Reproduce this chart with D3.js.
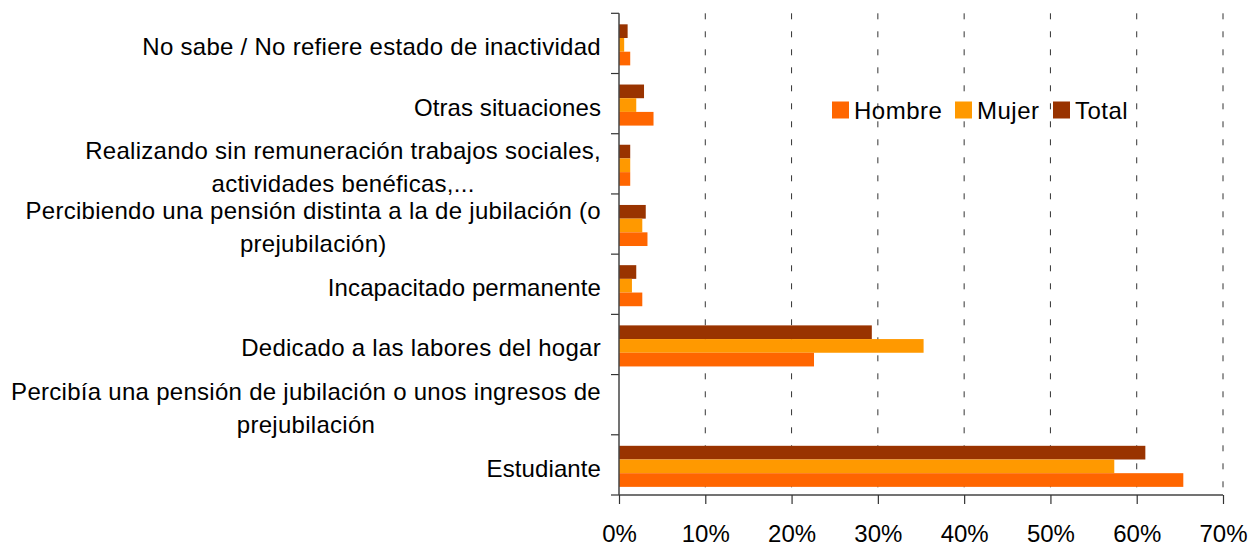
<!DOCTYPE html>
<html><head><meta charset="utf-8">
<script src="https://cdn.jsdelivr.net/npm/d3@7"></script>
<style>body{margin:0;background:#fff}svg{display:block;font-family:"Liberation Sans",Arial,sans-serif}</style>
</head><body>
<svg id="c" width="1250" height="545"></svg>
<script>
const categories = [
  "No sabe / No refiere estado de inactividad",
  "Otras situaciones",
  "Realizando sin remuneración trabajos sociales, actividades benéficas,...",
  "Percibiendo una pensión distinta a la de jubilación (o prejubilación)",
  "Incapacitado permanente",
  "Dedicado a las labores del hogar",
  "Percibía una pensión de jubilación o unos ingresos de prejubilación",
  "Estudiante"
];
const labelLines = [
  ["No sabe / No refiere estado de inactividad"],
  ["Otras situaciones"],
  ["Realizando sin remuneración trabajos sociales,", "actividades benéficas,..."],
  ["Percibiendo una pensión distinta a la de jubilación (o", "prejubilación)"],
  ["Incapacitado permanente"],
  ["Dedicado a las labores del hogar"],
  ["Percibía una pensión de jubilación o unos ingresos de", "prejubilación"],
  ["Estudiante"]
];
const seriesNames = ["Hombre", "Mujer", "Total"];
const hombre = [1.3, 4.0, 1.3, 3.3, 2.7, 22.6, 0, 65.4];
const mujer  = [0.6, 2.0, 1.3, 2.7, 1.5, 35.3, 0, 57.4];
const total  = [1.0, 2.9, 1.3, 3.1, 2.0, 29.3, 0, 61.0];
const xTicks = [0, 10, 20, 30, 40, 50, 60, 70];
const colors = {Hombre: "#FF6600", Mujer: "#FF9900", Total: "#993300"};
const values = {Hombre: hombre, Mujer: mujer, Total: total};

(function () {
const svg = d3.select("#c");
const pLeft = 619, pRight = 1223, pTop = 13.3, pBottom = 495;
const x = d3.scaleLinear().domain([0, 70]).range([pLeft, pRight]);
const y = d3.scaleBand().domain(categories).range([pTop, pBottom]);
const bw = y.bandwidth();
const y1 = d3.scaleBand().domain(["Total", "Mujer", "Hombre"]).range([bw * 0.183, bw * 0.865]);

// gridlines
svg.append("g").selectAll("line").data(xTicks.filter(d => d > 0)).join("line")
  .attr("x1", d => x(d)).attr("x2", d => x(d))
  .attr("y1", pTop).attr("y2", pBottom)
  .attr("stroke", "#333").attr("stroke-width", 1).attr("stroke-dasharray", "6,12");

// bars
const g = svg.append("g");
categories.forEach((c, i) => {
  ["Total", "Mujer", "Hombre"].forEach(s => {
    const v = values[s][i];
    if (v <= 0) return;
    g.append("rect")
      .attr("x", x(0)).attr("y", y(c) + y1(s))
      .attr("width", x(v) - x(0)).attr("height", y1.bandwidth())
      .attr("fill", colors[s]);
  });
});

// left axis: ticks at category boundaries
const boundaries = d3.range(categories.length + 1).map(i => pTop + i * bw);
svg.append("g").selectAll("line").data(boundaries).join("line")
  .attr("x1", pLeft - 8).attr("x2", pLeft).attr("y1", d => d).attr("y2", d => d)
  .attr("stroke", "#333").attr("stroke-width", 1.2);
svg.append("line").attr("x1", pLeft).attr("x2", pLeft).attr("y1", pTop).attr("y2", pBottom)
  .attr("stroke", "#444").attr("stroke-width", 1.5);

// bottom axis
const xAxis = d3.axisBottom(x).tickValues(xTicks).tickSize(9).tickFormat(d => d + "%");
const gx = svg.append("g").attr("transform", `translate(0,${pBottom})`).call(xAxis);
gx.select(".domain").attr("stroke", "#444").attr("stroke-width", 1.5).attr("d", `M${pLeft},0H${pRight}`);
gx.selectAll(".tick line").attr("stroke", "#333").attr("stroke-width", 1.2);
gx.selectAll(".tick text").attr("font-size", 24).attr("font-family", '"Liberation Sans",Arial,sans-serif')
  .attr("fill", "#000").attr("dy", null).attr("y", 46.5);

// category labels
const labelRight = 601;
categories.forEach((c, i) => {
  const lines = labelLines[i];
  const cy = y(c) + bw / 2 + 3.5;
  const t = svg.append("text").attr("font-size", 24).attr("fill", "#000")
    .attr("letter-spacing", lines[0].length > 30 ? 0.28 : 0.1);
  const n = lines.length;
  const spans = lines.map((ln, j) => t.append("tspan").text(ln)
    .attr("y", cy + (j - (n - 1) / 2) * 33).attr("dy", "0.35em"));
  if (n === 1) {
    t.attr("text-anchor", "end");
    spans[0].attr("x", labelRight);
  } else {
    const maxW = d3.max(spans, s => s.node().getComputedTextLength());
    t.attr("text-anchor", "middle");
    spans.forEach(s => s.attr("x", labelRight - maxW / 2));
  }
});

// legend
const legX = [832, 955, 1053];
const lg = svg.append("g");
seriesNames.forEach((s, i) => {
  lg.append("rect").attr("x", legX[i]).attr("y", 101.5).attr("width", 17).attr("height", 17).attr("fill", colors[s]);
  lg.append("text").attr("x", legX[i] + 22).attr("y", 118.5).attr("font-size", 24)
    .attr("letter-spacing", 0.5).attr("fill", "#000").text(s);
});
})();
</script>
</body></html>
